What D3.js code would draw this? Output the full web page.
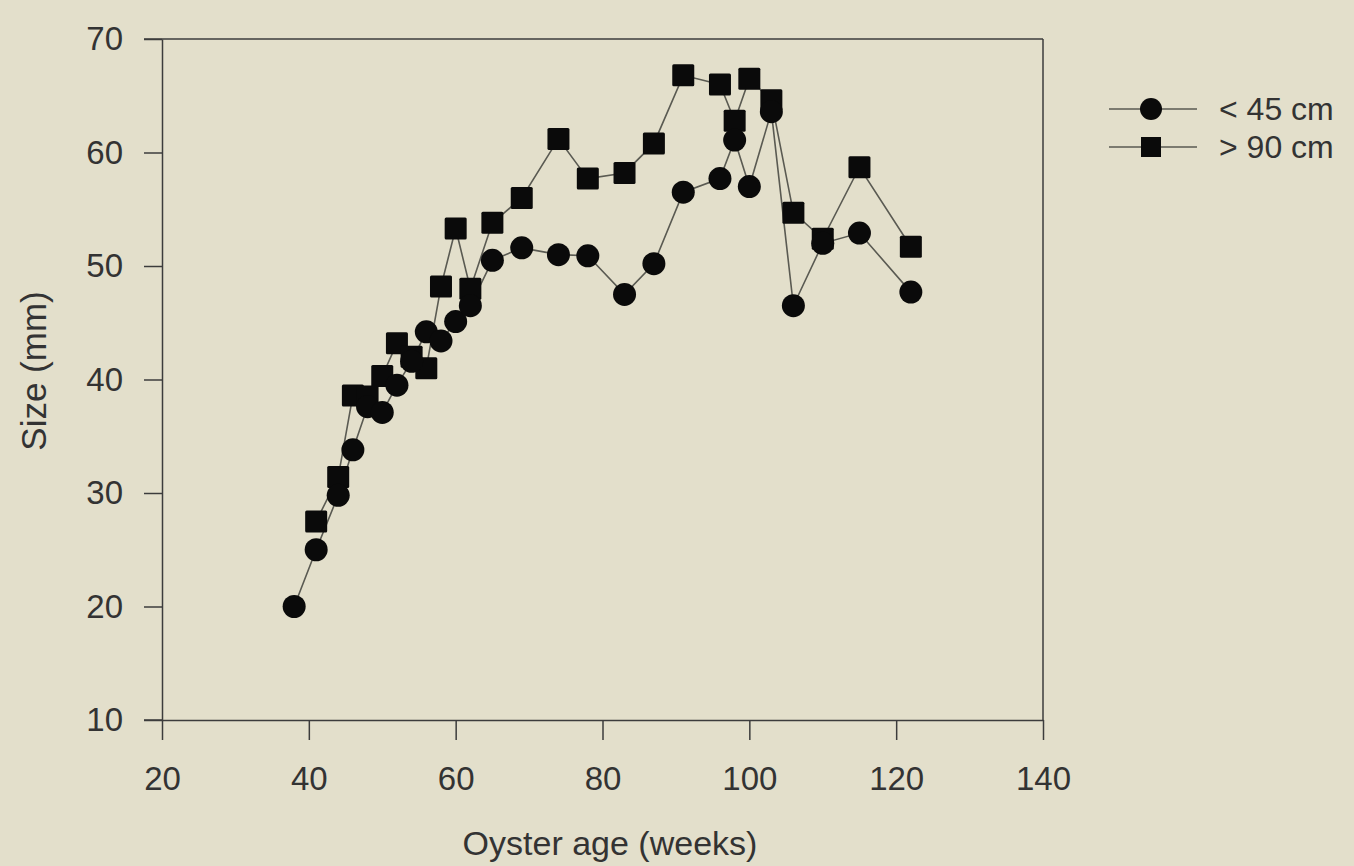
<!DOCTYPE html>
<html><head><meta charset="utf-8">
<script src="https://cdn.jsdelivr.net/npm/d3@7"></script>
<style>
html,body{margin:0;padding:0;background:#e3dfcb;}
svg{display:block;}
text{font-family:"Liberation Sans",Arial,sans-serif;fill:#333;}
</style></head>
<body>
<script>
// Data
const seriesNames = ["< 45 cm", "> 90 cm"];
const agesSmall = [38, 41, 44, 46, 48, 50, 52, 54, 56, 58, 60, 62, 65, 69, 74, 78, 83, 87, 91, 96, 98, 100, 103, 106, 110, 115, 122];
const sizeSmall = [20.0, 25.0, 29.8, 33.8, 37.6, 37.1, 39.5, 41.6, 44.2, 43.4, 45.1, 46.5, 50.5, 51.6, 51.0, 50.9, 47.5, 50.2, 56.5, 57.7, 61.1, 57.0, 63.6, 46.5, 52.0, 52.9, 47.7];
const agesLarge = [41, 44, 46, 48, 50, 52, 54, 56, 58, 60, 62, 65, 69, 74, 78, 83, 87, 91, 96, 98, 100, 103, 106, 110, 115, 122];
const sizeLarge = [27.5, 31.4, 38.6, 38.5, 40.3, 43.2, 42.0, 41.0, 48.2, 53.3, 48.0, 53.8, 56.0, 61.2, 57.7, 58.2, 60.8, 66.8, 66.0, 62.8, 66.5, 64.6, 54.7, 52.4, 58.7, 51.7];
const xTicks = [20, 40, 60, 80, 100, 120, 140];
const yTicks = [10, 20, 30, 40, 50, 60, 70];

const W = 1354, H = 866;
const svg = d3.select("body").append("svg").attr("width", W).attr("height", H);
svg.append("rect").attr("width", W).attr("height", H).attr("fill", "#e3dfcb");

const x = d3.scaleLinear().domain([20, 140]).range([162, 1043]);
const y = d3.scaleLinear().domain([10, 70]).range([720, 39]);
const axisColor = "#3c3c3c";
const fontFam = '"Liberation Sans", Arial, sans-serif';

// frame
svg.append("line").attr("x1", x(20)).attr("x2", x(140)).attr("y1", y(70)).attr("y2", y(70)).attr("stroke", axisColor).attr("stroke-width", 1.5);
svg.append("line").attr("x1", x(140)).attr("x2", x(140)).attr("y1", y(70)).attr("y2", y(10)).attr("stroke", axisColor).attr("stroke-width", 1.5);

const xAxis = svg.append("g").attr("transform", `translate(0,${y(10)})`)
  .call(d3.axisBottom(x).tickValues(xTicks).tickSize(20).tickSizeOuter(0).tickPadding(27));
const yAxis = svg.append("g").attr("transform", `translate(${x(20)},0)`)
  .call(d3.axisLeft(y).tickValues(yTicks).tickSize(18).tickSizeOuter(0).tickPadding(21));
[xAxis, yAxis].forEach(g => {
  g.select(".domain").attr("stroke", axisColor).attr("stroke-width", 1.5);
  g.selectAll(".tick line").attr("stroke", axisColor).attr("stroke-width", 1.5);
  g.selectAll(".tick text").attr("font-size", 33).attr("fill", "#333").style("font-family", fontFam);
});
svg.append("line").attr("x1", x(20) - 18).attr("x2", x(20)).attr("y1", y(10)).attr("y2", y(10)).attr("stroke", axisColor).attr("stroke-width", 1.5);
svg.append("line").attr("x1", x(20) - 18).attr("x2", x(20)).attr("y1", y(70)).attr("y2", y(70)).attr("stroke", axisColor).attr("stroke-width", 1.5);

// axis titles
svg.append("text").attr("x", 610).attr("y", 855).attr("text-anchor", "middle").attr("font-size", 34).text("Oyster age (weeks)");
svg.append("text").attr("transform", `translate(46,371) rotate(-90)`).attr("text-anchor", "middle").attr("font-size", 35).text("Size (mm)");

const small = agesSmall.map((a, i) => ({x: a, y: sizeSmall[i]}));
const large = agesLarge.map((a, i) => ({x: a, y: sizeLarge[i]}));
const line = d3.line().x(d => x(d.x)).y(d => y(d.y));
const lineColor = "#5a5a52";

svg.append("path").datum(large).attr("d", line).attr("fill", "none").attr("stroke", lineColor).attr("stroke-width", 1.6);
svg.append("path").datum(small).attr("d", line).attr("fill", "none").attr("stroke", lineColor).attr("stroke-width", 1.6);

const sq = 22, r = 11.5;
svg.append("g").selectAll("rect").data(large).join("rect")
  .attr("x", d => x(d.x) - sq/2).attr("y", d => y(d.y) - sq/2)
  .attr("width", sq).attr("height", sq).attr("rx", 1.5).attr("fill", "#0a0a0a");
svg.append("g").selectAll("circle").data(small).join("circle")
  .attr("cx", d => x(d.x)).attr("cy", d => y(d.y)).attr("r", r).attr("fill", "#0a0a0a");

// legend
const legend = svg.append("g");
const rows = [{name: seriesNames[0], shape: "circle", yy: 109}, {name: seriesNames[1], shape: "square", yy: 147}];
rows.forEach(rw => {
  legend.append("line").attr("x1", 1109).attr("x2", 1197).attr("y1", rw.yy).attr("y2", rw.yy).attr("stroke", lineColor).attr("stroke-width", 1.6);
  if (rw.shape === "circle") legend.append("circle").attr("cx", 1151).attr("cy", rw.yy).attr("r", 11).attr("fill", "#0a0a0a");
  else legend.append("rect").attr("x", 1151 - 10).attr("y", rw.yy - 10).attr("width", 20).attr("height", 20).attr("fill", "#0a0a0a");
  legend.append("text").attr("x", 1219).attr("y", rw.yy + 11).attr("font-size", 32).text(rw.name);
});
</script>
</body></html>
